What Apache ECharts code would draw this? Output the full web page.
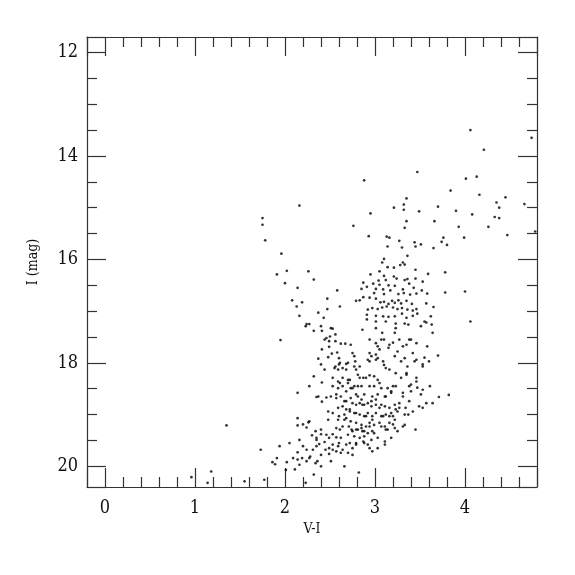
<!DOCTYPE html>
<html>
<head>
<meta charset="utf-8">
<script src="https://cdn.jsdelivr.net/npm/echarts@6/dist/echarts.min.js"></script>
<style>html,body{margin:0;padding:0;background:#fff}#c{width:575px;height:575px}</style>
</head>
<body>
<div id="c"></div>
<script>
// [V-I, I] pairs
const brightGiants = [
[4.06,13.50],[4.74,13.65],[4.21,13.88],[3.47,14.31],[4.01,14.44],[4.13,14.40],[3.84,14.67],[4.16,14.75],
[3.35,14.82],[3.32,14.94],[4.45,14.80],[4.35,14.90],[4.66,14.93],[3.21,15.00],[3.32,15.04],[3.49,15.07],
[3.70,14.98],[3.90,15.06],[4.38,15.00],[4.08,15.13],[4.33,15.18],[4.38,15.20],[3.35,15.26],[3.66,15.26],
[3.33,15.39],[3.93,15.37],[4.26,15.37],[4.47,15.53],[4.78,15.46],[3.76,15.58],[3.99,15.58],[3.16,15.58],
[2.88,14.47],[2.16,14.96],[2.95,15.11],[2.76,15.35],[2.93,15.55],[3.13,15.56],[3.27,15.64],[3.44,15.67],
[3.51,15.71],[3.45,15.75],[3.30,15.77],[3.14,15.75],[3.65,15.78],[3.74,15.66],[3.80,15.72]
];
const blueBranch = [
[1.75,15.20],[1.75,15.33],[1.78,15.63],[1.96,15.89],[2.02,16.22],[2.26,16.23],[1.91,16.29],[2.32,16.39],
[2.00,16.46],[2.14,16.55],[2.58,16.60],[2.08,16.79],[2.19,16.83],[2.47,16.76],[2.61,16.91],[2.13,16.91],
[2.47,16.96],[2.16,17.09],[2.37,17.03],[2.43,17.13],[2.24,17.25],[2.27,17.25],[2.40,17.29],[2.51,17.33],
[2.23,17.29],[2.41,17.38],[2.53,17.34],[2.46,17.52],[2.50,17.49],[2.56,17.45],[2.44,17.55],[2.49,17.58],
[2.56,17.58],[2.62,17.63],[2.67,17.63],[2.49,17.69],[2.41,17.74],[2.52,17.82],[2.58,17.80],[2.48,17.89],
[2.60,17.91],[2.37,17.92],[2.32,17.38],[1.95,17.56]
];
const upperBranch = [
[3.36,15.93],[3.10,15.99],[3.08,16.06],[3.31,16.06],[3.33,16.10],[3.28,16.11],[3.14,16.15],[3.21,16.16],
[3.45,16.20],[3.05,16.23],[3.78,16.25],[3.59,16.28],[2.95,16.29],[3.10,16.32],[3.21,16.33],[3.24,16.37],
[3.33,16.40],[3.36,16.38],[3.45,16.37],[3.04,16.41],[3.12,16.40],[2.87,16.45],[2.98,16.47],[3.05,16.49],
[3.15,16.50],[3.22,16.51],[3.38,16.47],[3.53,16.43],[2.91,16.53],[2.85,16.57],[3.01,16.57],[3.09,16.58],
[3.17,16.60],[3.31,16.58],[3.43,16.55],[3.52,16.60],[3.58,16.66],[3.78,16.64],[2.99,16.65],[3.10,16.67],
[3.26,16.67],[3.32,16.65],[3.39,16.68],[3.46,16.66],[2.79,16.80],[2.83,16.79],[2.87,16.73],[2.94,16.74],
[3.01,16.76],[3.06,16.83],[3.10,16.82],[3.15,16.86],[3.19,16.80],[3.22,16.84],[3.26,16.79],[3.29,16.85],
[3.35,16.80],[3.41,16.86],[3.57,16.85],[2.92,16.97],[2.97,16.94],[3.03,16.96],[3.08,16.93],[3.13,16.91],
[3.20,16.93],[3.25,16.96],[3.30,16.94],[3.36,16.97],[3.42,16.99],[3.46,16.96],[3.65,16.92],[2.91,17.07],
[3.01,17.09],[3.09,17.10],[3.15,17.11],[3.22,17.10],[3.30,17.05],[3.35,17.13],[3.42,17.09],[3.47,17.05],
[3.62,17.10],[2.91,17.16],[3.01,17.20],[3.12,17.20],[3.23,17.24],[3.33,17.24],[3.37,17.26],[3.57,17.22],
[3.63,17.26],[3.01,17.33],[3.23,17.33],[4.00,16.62],[4.06,17.20]
];
const middleBranch = [
[2.73,17.65],[2.86,17.36],[2.94,17.55],[3.01,17.62],[3.05,17.74],[3.10,17.55],[3.16,17.65],[3.22,17.42],
[3.27,17.55],[3.35,17.65],[3.40,17.55],[3.46,17.62],[2.77,17.87],[2.96,17.87],[3.03,17.91],[3.22,17.87],
[3.33,17.91],[3.58,17.68],[3.64,17.42],[3.55,17.20],[3.51,17.29],
[2.75,17.81],[2.61,18.00],[2.44,18.13],[2.56,18.07],[2.68,18.13],[2.78,17.97],[2.83,18.07],[2.92,17.94],
[2.94,17.81],[3.01,17.84],[3.03,17.68],[3.07,17.55],[3.08,17.42],[3.15,17.71],[3.20,17.61],[3.25,17.78],
[3.31,17.68],[3.38,17.55],[3.42,17.81],[3.46,17.94],[3.53,18.07],[3.60,17.97],[3.70,17.86],[3.10,18.04],
[3.16,18.13],[3.23,18.20],[3.29,18.29],[3.35,18.20],[2.99,18.26],[3.05,18.39],[2.94,18.45],[2.87,18.29],
[2.61,18.39],[2.41,18.38],[2.27,18.45],[2.32,18.26],[2.14,18.58],[2.37,18.65],[2.46,18.67],[2.57,18.61],
[2.75,18.49],[2.79,18.61],[2.85,18.71],[2.88,18.81],[2.96,18.74],[3.01,18.71],[3.07,18.81],[3.12,18.65],
[3.18,18.55],[3.23,18.45],[3.31,18.58],[3.38,18.45],[3.46,18.36],[3.53,18.52],[3.64,18.78],[3.71,18.66],
[3.34,18.87],[3.42,18.94],[3.49,18.84],[3.33,19.00],[3.37,19.00],[3.23,18.90],[3.16,19.03],[3.09,19.03],
[3.82,18.62],[3.61,18.45],[3.57,18.78],[3.53,18.87],[3.47,18.48],[3.40,18.55],[3.55,17.90]
];
const redClump = [
[2.70,18.00],[2.77,18.07],[2.79,18.13],[2.81,18.23],[2.83,18.29],[2.72,18.33],[2.70,18.39],[2.73,18.49],
[2.77,18.45],[2.81,18.45],[2.85,18.45],[2.90,18.29],[2.94,18.24],[2.94,17.97],[3.01,17.94],[3.09,17.97],
[3.12,18.10],[3.03,18.33],[2.99,18.45],[3.07,18.49],[3.14,18.49],[3.20,18.45],[3.18,18.58],[3.11,18.65],
[3.03,18.61],[2.97,18.65],[2.88,18.61],[2.81,18.65],[2.73,18.68],[2.68,18.74],[2.75,18.78],[2.79,18.81],
[2.83,18.78],[2.86,18.81],[2.92,18.78],[2.96,18.84],[3.01,18.81],[3.05,18.87],[3.11,18.84],[3.16,18.87],
[3.22,18.81],[3.27,18.78],[3.25,18.94],[3.18,18.97],[3.12,19.00],[3.07,19.03],[3.01,18.97],[2.97,19.03],
[2.92,18.97],[2.88,19.03],[2.83,19.00],[2.77,18.97],[2.72,18.94],[2.68,19.07],[2.73,19.13],[2.79,19.16],
[2.85,19.20],[2.90,19.23],[2.94,19.16],[2.99,19.20],[3.05,19.16],[3.11,19.23],[3.16,19.16],[3.22,19.10],
[3.22,19.26],[3.14,19.29],[2.97,19.32],[2.92,19.36],[2.86,19.32],[2.81,19.29],[2.75,19.32],[2.70,19.39],
[2.77,19.42],[2.83,19.45],[2.88,19.42],[2.96,19.49],[3.03,19.45],[3.11,19.52],[2.88,19.55],[2.79,19.58],
[2.72,19.55],[2.75,19.65],[2.94,19.65],[2.70,19.74],[2.75,19.78],
[3.29,17.97],[3.36,18.07],[3.44,17.97],[3.53,18.03],[3.35,18.23],[3.46,18.29],[3.40,18.42],[3.51,18.61],
[3.31,18.65],[3.38,18.74],[3.27,18.87],[3.20,19.03],[3.33,19.20],[3.25,19.32],[3.18,19.45],[3.11,19.58],
[3.03,19.65]
];
const lowerBranch = [
[2.97,19.10],[2.90,19.03],[2.79,18.97],[2.72,18.90],[2.59,19.10],[2.27,19.13],[2.20,19.19],[2.14,19.07],
[2.71,19.23],[2.74,19.29],[2.79,19.29],[2.85,19.26],[2.88,19.32],[2.94,19.23],[2.99,19.36],[3.07,19.23],
[3.12,19.29],[3.20,19.19],[3.31,19.23],[3.45,19.29],[2.61,19.29],[2.53,19.38],[2.40,19.38],[2.35,19.45],
[2.16,19.49],[2.05,19.55],[1.94,19.61],[1.73,19.68],[2.20,19.61],[2.35,19.61],[2.49,19.65],[2.59,19.61],
[2.68,19.58],[2.79,19.55],[2.87,19.52],[2.92,19.58],[2.97,19.71],[2.40,19.78],[2.27,19.84],[2.14,19.87],
[2.09,19.84],[1.91,19.84],[1.86,19.92],[1.89,19.96],[2.02,19.92],[2.16,19.97],[2.40,20.00],[2.01,20.07],
[2.66,20.00],[2.82,20.12],[2.32,20.16],[1.77,20.26],[2.23,20.32],
[2.14,19.21],[2.24,19.25],[2.26,19.15],[2.30,19.40],[2.34,19.32],[2.35,19.49],[2.40,19.29],[2.46,19.39],
[2.44,19.53],[2.38,19.57],[2.31,19.68],[2.24,19.68],[2.19,19.84],[2.24,19.90],[2.28,19.81],[2.34,19.94],
[2.36,19.90],[2.51,19.90],[2.49,19.76],[2.45,19.68],[2.53,19.68],[2.57,19.71],[2.62,19.74],[2.64,19.68],
[2.49,19.45],[2.57,19.44],[2.62,19.45],[2.53,19.58],[2.60,19.55],[2.48,19.10],[2.66,19.10],[2.57,19.26],
[2.64,19.23],[2.35,18.66],[2.41,18.75],
[2.60,18.03],[2.64,18.10],[2.68,18.02],[2.55,18.10],[2.59,18.13],[2.40,18.03],[2.53,18.29],[2.59,18.36],
[2.64,18.29],[2.70,18.33],[2.53,18.45],[2.59,18.49],[2.64,18.45],[2.68,18.55],[2.51,18.65],[2.57,18.68],
[2.62,18.65],[2.66,18.74],[2.59,18.87],[2.64,18.84],[2.68,18.90],[2.48,18.94],[2.53,18.97],[2.60,19.03],
[2.66,19.00]
];
const faintStars = [
[0.96,20.21],[1.18,20.10],[1.14,20.32],[1.55,20.29],[2.11,20.06],[2.14,19.73],[1.35,19.21]
];

const xTitle = 'V-I';
const yTitle = 'I (mag)';

const allStars = [].concat(brightGiants, blueBranch, upperBranch, middleBranch, redClump, lowerBranch, faintStars);

const chart = echarts.init(document.getElementById('c'), null, {renderer: 'canvas'});
const serif = '"DejaVu Serif Condensed", "DejaVu Serif", serif';
const lineCol = '#333';
function xAx(pos, showLabel) {
  return {
    type: 'value', position: pos, min: -0.2, max: 4.8, splitNumber: 5,
    axisLine: {show: true, onZero: false, lineStyle: {color: lineCol, width: 1.2}},
    axisTick: {show: true, inside: true, length: 19, lineStyle: {color: lineCol, width: 1.2}},
    minorTick: {show: true, splitNumber: 5, length: 10, lineStyle: {color: lineCol, width: 1.2}},
    splitLine: {show: false}, minorSplitLine: {show: false},
    axisLabel: {show: showLabel, showMinLabel: false, showMaxLabel: false, margin: 12,
      fontFamily: serif, fontSize: 18, color: '#111'},
    name: showLabel ? xTitle : '', nameLocation: 'middle', nameGap: 34,
    nameTextStyle: {fontFamily: serif, fontSize: 14, color: '#111'}
  };
}
function yAx(pos, showLabel) {
  return {
    type: 'value', position: pos, inverse: true, min: 11.7, max: 20.4, splitNumber: 4,
    axisLine: {show: true, onZero: false, lineStyle: {color: lineCol, width: 1.2}},
    axisTick: {show: true, inside: true, length: 19, lineStyle: {color: lineCol, width: 1.2}},
    minorTick: {show: true, splitNumber: 4, length: 10, lineStyle: {color: lineCol, width: 1.2}},
    splitLine: {show: false}, minorSplitLine: {show: false},
    axisLabel: {show: showLabel, showMinLabel: false, showMaxLabel: false, margin: 9,
      fontFamily: serif, fontSize: 18, color: '#111'},
    name: showLabel ? yTitle : '', nameLocation: 'middle', nameGap: 47, nameRotate: 90,
    nameTextStyle: {fontFamily: serif, fontSize: 14, color: '#111'}
  };
}
chart.setOption({
  animation: false,
  backgroundColor: '#fff',
  grid: {left: 87, right: 38, top: 37, bottom: 88, containLabel: false},
  xAxis: [xAx('bottom', true), xAx('top', false)],
  yAxis: [yAx('left', true), yAx('right', false)],
  series: [{
    type: 'scatter', xAxisIndex: 0, yAxisIndex: 0, symbol: 'circle', symbolSize: 2.7,
    itemStyle: {color: '#000'}, silent: true, data: allStars
  }]
});
</script>
</body>
</html>
